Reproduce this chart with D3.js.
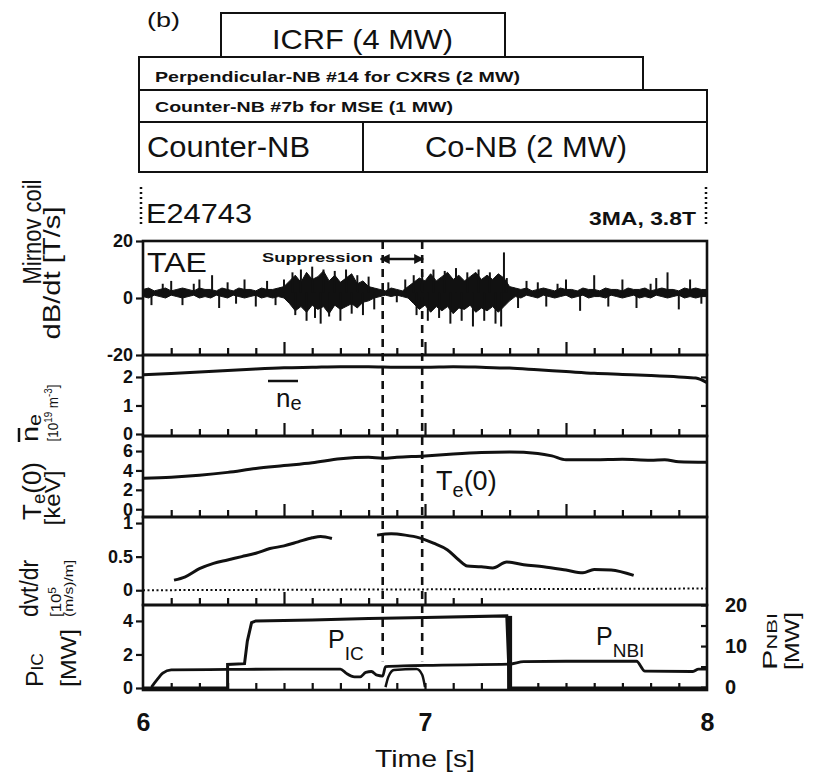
<!DOCTYPE html>
<html>
<head>
<meta charset="utf-8">
<script src="https://cdn.jsdelivr.net/npm/d3@7"></script>
<style>
body { margin: 0; background: #fff; }
svg text { font-family: "Liberation Sans", Arial, sans-serif; fill: #111; }
</style>
</head>
<body>
<svg width="825" height="778"></svg>
<script>
'use strict';

// ---- data ----
var timeLabels = [6, 7, 8];
var dashedTimes = [6.85, 6.99];

// Mirnov coil signal: core band envelope every 0.02 s from 6.00 to 8.00, plus spikes
var mirnovHi = [3,3.5,2.5,3,3.5,2.5,3,3.5,3,2.5, 3.5,3,3,2.5,3.5,3,2.5,3.5,3,3, 2.5,3.5,3,3,3.5,4,
    6,8,5.5,9,6.5,7.5,9.5,6,8,5.5, 7,8.5,5,6,4,3.5,
    3,2.5,3.5,3,2.5,4,
    5.5,7,6,8.5,6,7.5,9,6.5,8,6, 7.5,9,6.5,8,6.5,8.5,7,4,
    3.5,3,3.5,2.5,3,3.5,3,2.5,3.5,3, 3,2.5,3.5,3,3,2.5,3.5,3,3,2.5, 3.5,3,3,3.5,2.5,3,3.5,3,3,2.5, 3.5,3,3.5,3,3];
var mirnovLo = [0.5,0,1,0.5,0,1,0.5,0,0.5,1, 0,0.5,0,1,0.5,0,1,0.5,0,0.5, 1,0,0.5,0,0.5,0,
    -2,-4.5,-3,-5,-2.5,-4,-3,-5.5,-2.5,-4, -3,-2,-3.5,-1.5,-1,0,
    0.5,1,0.5,1,0.5,0,
    -2,-4,-2.5,-5,-3,-4.5,-3,-5.5,-3.5,-4, -2.5,-5,-3.5,-4.5,-3,-5,-3,-1,
    0.5,0,1,0.5,0,1,0.5,0,0.5,1, 0,0.5,1,0,0.5,0.5,0,1,0.5,0, 0.5,1,0,0.5,0,1,0.5,0,0.5,1, 0,0.5,0,0.5,0.5];
var mirnovSpikes = [[6.03,-2.5],[6.07,5],[6.1,6],[6.14,-2.5],[6.18,5],[6.2,6.5],[6.245,8],[6.27,-3.5],
    [6.3,5.5],[6.33,-2],[6.36,6.5],[6.4,-3],[6.44,6],[6.47,-2.5],[6.5,6.5],
    [6.53,9],[6.54,-6],[6.56,10],[6.58,-8],[6.6,11],[6.61,-7],[6.63,-9],[6.64,10],[6.66,-6.5],
    [6.68,9.5],[6.7,-8],[6.72,10],[6.74,-5.5],[6.76,8],[6.78,-6],[6.8,7.5],[6.82,-4],
    [6.87,5.5],[6.9,-1.5],[6.93,6.5],
    [6.96,8],[6.97,-6],[6.99,9],[7.01,-8],[7.03,10],[7.05,-7],[7.07,9.5],[7.09,-9],[7.11,10.5],
    [7.13,-8],[7.15,9],[7.17,-10],[7.19,10],[7.21,-8],[7.23,9],[7.25,-9],[7.27,-10],[7.28,16],[7.29,7],
    [7.33,-3.5],[7.36,6],[7.4,5.5],[7.43,-3],[7.47,5],[7.5,6.5],[7.55,-4.5],[7.6,8],[7.65,-3],
    [7.7,6.5],[7.75,-3.5],[7.8,5],[7.82,7],[7.86,9],[7.9,-4],[7.94,6.5],[7.98,-2]];

var neData = [[6.0,2.08],[6.1,2.12],[6.2,2.17],[6.3,2.23],[6.4,2.28],[6.5,2.32],[6.6,2.34],[6.7,2.36],
    [6.8,2.36],[6.9,2.34],[7.0,2.34],[7.1,2.36],[7.2,2.34],[7.3,2.31],[7.4,2.25],[7.5,2.19],
    [7.6,2.13],[7.7,2.09],[7.8,2.05],[7.9,2.0],[7.96,1.96],[8.0,1.8]];

var teData = [[6.0,3.2],[6.1,3.3],[6.2,3.5],[6.3,3.8],[6.4,4.2],[6.5,4.5],[6.6,4.8],[6.7,5.2],
    [6.8,5.35],[6.85,5.25],[6.9,5.35],[7.0,5.5],[7.1,5.7],[7.2,5.85],[7.3,5.9],[7.4,5.75],
    [7.45,5.5],[7.5,5.1],[7.6,5.1],[7.7,5.15],[7.8,5.05],[7.85,5.1],[7.9,4.9],[8.0,4.85]];

var dvdrEarly = [[6.11,0.15],[6.15,0.2],[6.2,0.32],[6.25,0.4],[6.3,0.45],[6.35,0.5],[6.4,0.55],
    [6.45,0.62],[6.5,0.66],[6.55,0.72],[6.6,0.78],[6.63,0.8],[6.67,0.77]];
var dvdrLate = [[6.83,0.82],[6.88,0.84],[6.93,0.82],[6.98,0.78],[7.03,0.7],[7.08,0.6],[7.12,0.45],
    [7.15,0.36],[7.2,0.35],[7.24,0.33],[7.29,0.42],[7.35,0.38],[7.42,0.35],[7.5,0.3],
    [7.56,0.26],[7.6,0.31],[7.66,0.3],[7.74,0.22]];

// left axis, MW
var picData = [[6.0,0],[6.3,0],[6.3,1.4],[6.36,1.45],[6.37,2.8],[6.385,3.9],[6.4,4.0],[6.6,4.05],
    [6.8,4.15],[7.0,4.2],[7.29,4.3],[7.3,0],[8.0,0]];
// right axis, MW
var pnbiData = [[6.03,0],[6.05,1.8],[6.07,3.4],[6.1,4.2],[6.3,4.3],[6.5,4.4],[6.7,4.4],[6.72,3.4],
    [6.75,2.5],[6.77,2.5],[6.79,3.6],[6.81,3.8],[6.83,2.9],[6.85,2.7],[6.86,5.0],[6.95,5.2],
    [7.0,5.3],[7.3,5.6],[7.35,6.2],[7.5,6.3],[7.75,6.3],[7.78,3.9],[7.95,3.8],[7.97,4.4],[8.0,4.4]];
var pnbiHump = [[6.86,0],[6.87,2.5],[6.89,4.2],[6.97,4.4],[6.99,3.0],[7.0,0]];

// ---- layout ----
var svg = d3.select('svg');
var x = d3.scaleLinear().domain([6, 8]).range([143, 707]);

var panels = [
    {top: 241, bottom: 355, domain: [-20, 20], ticks: [-20, 0, 20]},
    {top: 355, bottom: 436, domain: [-0.07, 2.77], ticks: [0, 1, 2], right: [1, 2]},
    {top: 436, bottom: 517, domain: [-0.8, 7.55], ticks: [0, 2, 4, 6]},
    {top: 517, bottom: 605, domain: [-0.22, 1.09], ticks: [0, 0.5, 1], tickEnd: 7.2},
    {top: 605, bottom: 690, domain: [-0.12, 4.95], ticks: [0, 2, 4]}
];
panels.forEach(function(p) {
    p.y = d3.scaleLinear().domain(p.domain).range([p.bottom, p.top]);
});
var yR = d3.scaleLinear().domain([-0.7, 20]).range([690, 605]);

var line = function(yScale) {
    return d3.line()
        .x(function(d) { return x(d[0]); })
        .y(function(d) { return yScale(d[1]); });
};

// ---- top boxes ----
var boxes = svg.append('g').attr('class', 'boxes')
    .attr('fill', 'none').attr('stroke', '#111').attr('stroke-width', 2);
boxes.append('rect').attr('x', 221).attr('y', 13).attr('width', 284).attr('height', 44);
boxes.append('rect').attr('x', 139).attr('y', 57).attr('width', 504).attr('height', 33);
boxes.append('rect').attr('x', 139).attr('y', 90).attr('width', 568).attr('height', 32);
boxes.append('rect').attr('x', 139).attr('y', 122).attr('width', 568).attr('height', 50);
boxes.append('line').attr('x1', 363).attr('x2', 363).attr('y1', 122).attr('y2', 172);

function txt(s, px, py, size, opts) {
    opts = opts || {};
    var t = svg.append('text').attr('x', px).attr('y', py)
        .style('font-size', size + 'px')
        .style('font-weight', opts.bold ? 'bold' : 'normal')
        .attr('text-anchor', opts.anchor || 'start')
        .text(s);
    if (opts.len) t.attr('textLength', opts.len).attr('lengthAdjust', 'spacingAndGlyphs');
    return t;
}

txt('(b)', 147, 27, 20, {len: 33});
txt('ICRF (4 MW)', 272, 49, 28, {len: 181});
txt('Perpendicular-NB #14 for CXRS (2 MW)', 155, 82, 14, {bold: true, len: 365});
txt('Counter-NB #7b for MSE (1 MW)', 155, 112, 14, {bold: true, len: 298});
txt('Counter-NB', 147, 157, 29, {len: 163});
txt('Co-NB (2 MW)', 425, 157, 29, {len: 202});
txt('E24743', 146, 223, 27, {len: 106});
txt('3MA, 3.8T', 696, 225, 18, {bold: true, anchor: 'end', len: 107});

// dotted shot markers
[141, 706].forEach(function(px) {
    svg.append('line').attr('x1', px).attr('x2', px).attr('y1', 187).attr('y2', 227)
        .attr('stroke', '#111').attr('stroke-width', 2.5).attr('stroke-dasharray', '2,3');
});

// ---- traces ----
var p1 = panels[0], p2 = panels[1], p3 = panels[2], p4 = panels[3], p5 = panels[4];

var mirnovTimes = d3.range(mirnovHi.length).map(function(i) { return 6 + i * 0.02; });
var band = d3.area()
    .x(function(d, i) { return x(mirnovTimes[i]); })
    .y0(function(d, i) { return p1.y(mirnovLo[i]); })
    .y1(function(d, i) { return p1.y(mirnovHi[i]); });
svg.append('path').datum(mirnovHi).attr('d', band)
    .attr('fill', '#111').attr('stroke', '#111').attr('stroke-width', 1);
svg.selectAll('.spike').data(mirnovSpikes).enter().append('line')
    .attr('class', 'spike')
    .attr('x1', function(d) { return x(d[0]); })
    .attr('x2', function(d) { return x(d[0]); })
    .attr('y1', p1.y(1.8))
    .attr('y2', function(d) { return p1.y(d[1]); })
    .attr('stroke', '#111').attr('stroke-width', 2);

svg.append('path').datum(neData)
    .attr('d', line(p2.y).curve(d3.curveMonotoneX))
    .attr('fill', 'none').attr('stroke', '#111').attr('stroke-width', 3);

svg.append('path').datum(teData)
    .attr('d', line(p3.y).curve(d3.curveMonotoneX))
    .attr('fill', 'none').attr('stroke', '#111').attr('stroke-width', 3);

[dvdrEarly, dvdrLate].forEach(function(seg) {
    svg.append('path').datum(seg)
        .attr('d', line(p4.y).curve(d3.curveMonotoneX))
        .attr('fill', 'none').attr('stroke', '#111').attr('stroke-width', 3);
});
svg.append('line')
    .attr('x1', x(6)).attr('x2', x(8))
    .attr('y1', p4.y(0)).attr('y2', p4.y(0.025))
    .attr('stroke', '#111').attr('stroke-width', 2).attr('stroke-dasharray', '2,2.5');

svg.append('path').datum(pnbiData)
    .attr('d', line(yR).curve(d3.curveMonotoneX))
    .attr('fill', 'none').attr('stroke', '#111').attr('stroke-width', 2.8);
svg.append('path').datum(pnbiHump)
    .attr('d', line(yR).curve(d3.curveMonotoneX))
    .attr('fill', 'none').attr('stroke', '#111').attr('stroke-width', 2.5);
svg.append('path').datum(picData)
    .attr('d', line(p5.y))
    .attr('fill', 'none').attr('stroke', '#111').attr('stroke-width', 3);
// heavy turn-off edge of ICRF
svg.append('line').attr('x1', x(7.3)).attr('x2', x(7.3))
    .attr('y1', p5.y(4.3)).attr('y2', p5.y(-0.1))
    .attr('stroke', '#111').attr('stroke-width', 5);

// ---- frames and axes ----
panels.forEach(function(p, i) {
    svg.append('rect')
        .attr('x', x(6)).attr('y', p.top)
        .attr('width', x(8) - x(6)).attr('height', p.bottom - p.top)
        .attr('fill', 'none').attr('stroke', '#111').attr('stroke-width', 2.6);

    var ax = svg.append('g')
        .attr('transform', 'translate(' + x(6) + ',0)')
        .call(d3.axisLeft(p.y).tickValues(p.ticks).tickSize(7).tickPadding(3)
            .tickFormat(function(d) { return d; }));
    ax.select('.domain').remove();
    ax.selectAll('line').attr('stroke', '#111').attr('stroke-width', 2.2);
    ax.selectAll('text').style('font-size', '18px').style('font-weight', 'bold');

    if (p.right) {
        var ar = svg.append('g')
            .attr('transform', 'translate(' + x(8) + ',0)')
            .call(d3.axisRight(p.y).tickValues(p.right).tickSize(-6).tickFormat(''));
        ar.select('.domain').remove();
        ar.selectAll('line').attr('stroke', '#111').attr('stroke-width', 2.2);
    }

    var end = p.tickEnd || 7.95;
    var minor = d3.range(61, 80).map(function(v) { return v / 10; })
        .filter(function(t) { return t <= end && Math.round(t * 10) % 5 !== 0; });
    var major = [6.5, 7.0, 7.5].filter(function(t) { return t <= end; });
    var bm = svg.append('g').attr('transform', 'translate(0,' + p.bottom + ')')
        .call(d3.axisBottom(x).tickValues(minor).tickSize(-7).tickFormat(''));
    var bM = svg.append('g').attr('transform', 'translate(0,' + p.bottom + ')')
        .call(d3.axisBottom(x).tickValues(major).tickSize(i === 4 ? -7 : -13).tickFormat(''));
    [bm, bM].forEach(function(g) {
        g.select('.domain').remove();
        g.selectAll('line').attr('stroke', '#111').attr('stroke-width', 2.2);
    });
});

// right axis for P_NBI
var rAx = svg.append('g').attr('transform', 'translate(' + x(8) + ',0)')
    .call(d3.axisRight(yR).tickValues([0, 5, 10, 15, 20]).tickSize(-6).tickFormat(''));
rAx.select('.domain').remove();
rAx.selectAll('line').attr('stroke', '#111').attr('stroke-width', 2.2);
var rLab = svg.append('g').attr('transform', 'translate(' + x(8) + ',0)')
    .call(d3.axisRight(yR).tickValues([0, 10, 20]).tickSize(0).tickPadding(18));
rLab.select('.domain').remove();
rLab.selectAll('text').style('font-size', '20px').style('font-weight', 'bold');

// time axis labels
var xAx = svg.append('g').attr('transform', 'translate(0,' + p5.bottom + ')')
    .call(d3.axisBottom(x).tickValues(timeLabels).tickSize(0).tickPadding(23)
        .tickFormat(d3.format('d')));
xAx.select('.domain').remove();
xAx.selectAll('text').style('font-size', '25px').style('font-weight', 'bold');
txt('Time [s]', 425, 767, 24, {anchor: 'middle', len: 100});

// dashed markers through all panels
dashedTimes.forEach(function(t) {
    svg.append('line').attr('x1', x(t)).attr('x2', x(t))
        .attr('y1', p1.top).attr('y2', p5.y(1.6))
        .attr('stroke', '#111').attr('stroke-width', 2.6).attr('stroke-dasharray', '8,6');
});

// ---- annotations ----
txt('TAE', 147, 272, 27, {len: 60});
txt('Suppression', 262, 262, 13, {bold: true, len: 111});
svg.append('defs').append('marker')
    .attr('id', 'ah').attr('viewBox', '0 0 10 10').attr('refX', 9).attr('refY', 5)
    .attr('markerWidth', 4).attr('markerHeight', 4).attr('orient', 'auto-start-reverse')
    .append('path').attr('d', 'M0,0L10,5L0,10z').attr('fill', '#111');
svg.append('line').attr('x1', x(dashedTimes[0]) - 2).attr('x2', x(dashedTimes[1]) + 1)
    .attr('y1', 259).attr('y2', 259)
    .attr('stroke', '#111').attr('stroke-width', 2.5)
    .attr('marker-start', 'url(#ah)').attr('marker-end', 'url(#ah)');

// n-bar_e inside panel 2
var neLab = svg.append('text').attr('x', 276).attr('y', 407).style('font-size', '26px');
neLab.append('tspan').text('n');
neLab.append('tspan').attr('dy', 3).style('font-size', '20px').text('e');
svg.append('line').attr('x1', 268).attr('x2', 298).attr('y1', 381).attr('y2', 381)
    .attr('stroke', '#111').attr('stroke-width', 2.5);

var teLab = svg.append('text').attr('x', 436).attr('y', 490).style('font-size', '27px');
teLab.append('tspan').text('T');
teLab.append('tspan').attr('dy', 7).style('font-size', '20px').text('e');
teLab.append('tspan').attr('dy', -7).text('(0)');

var picLab = svg.append('text').attr('x', 328).attr('y', 648).style('font-size', '25px');
picLab.append('tspan').text('P');
picLab.append('tspan').attr('dy', 12).style('font-size', '19px').text('IC');

var nbiLab = svg.append('text').attr('x', 596).attr('y', 645).style('font-size', '25px');
nbiLab.append('tspan').text('P');
nbiLab.append('tspan').attr('dy', 12).style('font-size', '19px').text('NBI');

// ---- rotated axis titles ----
function vtext(px, py, size, parts, len, anchor) {
    var g = svg.append('g').attr('transform', 'translate(' + px + ',' + py + ') rotate(-90)');
    var t = g.append('text').attr('text-anchor', anchor || 'middle').style('font-size', size + 'px');
    parts.forEach(function(pt) {
        var s = t.append('tspan').text(pt.s);
        if (pt.dy) s.attr('dy', pt.dy);
        if (pt.size) s.style('font-size', pt.size + 'px');
    });
    if (len) t.attr('textLength', len).attr('lengthAdjust', 'spacingAndGlyphs');
    return g;
}

vtext(41, 232, 26, [{s: 'Mirnov coil'}], 105);
vtext(60, 273, 24, [{s: 'dB/dt [T/s]'}], 133);

var gNe = vtext(38, 442, 24, [{s: 'n'}, {s: 'e', dy: 3, size: 18}], 28, 'start');
gNe.append('line').attr('x1', 0).attr('x2', 14).attr('y1', -19).attr('y2', -19)
    .attr('stroke', '#111').attr('stroke-width', 2.5);
vtext(58, 413, 15, [{s: '[10'}, {s: '19', dy: -6, size: 11}, {s: ' m', dy: 6},
    {s: '-3', dy: -6, size: 11}, {s: ']', dy: 6}], 57);

vtext(41, 491, 25, [{s: 'T'}, {s: 'e', dy: 4, size: 18}, {s: '(0)', dy: -4}], 58);
vtext(60, 498, 22, [{s: '[keV]'}], 55);

vtext(38, 617, 25, [{s: 'dvt/dr'}], 57, 'start');
vtext(61, 617, 14, [{s: '[10'}, {s: '5', dy: -5, size: 10}], 30, 'start');
vtext(73, 617, 12, [{s: '(m/s)/m]'}], 57, 'start');

vtext(43, 687, 24, [{s: 'P'}, {s: 'IC', size: 17}], 34, 'start');
vtext(76, 687, 22, [{s: '[MW]'}], 58, 'start');

vtext(777, 670, 21, [{s: 'P'}, {s: 'NBI', size: 15}], 57, 'start');
vtext(799, 670, 21, [{s: '[MW]'}], 58, 'start');
</script>
</body>
</html>
